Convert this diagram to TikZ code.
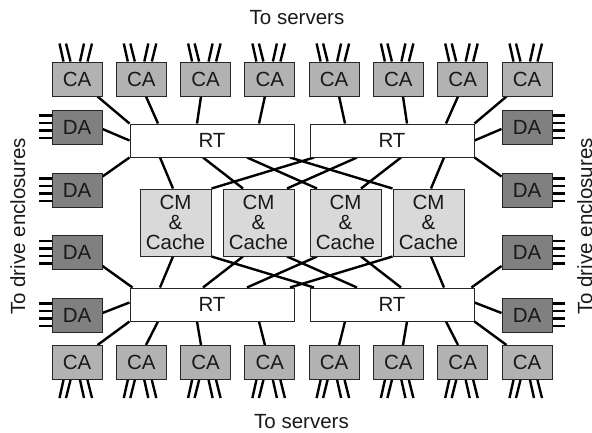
\documentclass[tikz,border=0pt]{standalone}
\usepackage{fontspec}
\setmainfont{Liberation Sans}
\usetikzlibrary{calc}
\pgfdeclarelayer{bg}
\pgfsetlayers{bg,main}
\begin{document}
\begin{tikzpicture}[x=1pt,y=-1pt,
  box/.style={draw=black!85, line width=1pt, inner sep=0pt, font=\fontsize{20.5}{20}\selectfont, text=black!90},
  cabox/.style={box, fill=black!30, minimum width=50pt, minimum height=34pt},
  dabox/.style={box, fill=black!50, minimum width=50pt, minimum height=34pt},
  rtbox/.style={box, fill=white, minimum width=164pt, minimum height=33pt},
  cmbox/.style={box, fill=black!15, minimum width=71pt, minimum height=67pt, align=center},
  conn/.style={line width=2.4pt, black},
  fan/.style={line width=2.4pt, black},
  lbl/.style={font=\fontsize{20.5}{24}\selectfont, inner sep=0pt, text=black!90}]
\useasboundingbox (0,0) rectangle (592,432);

% CA boxes
\foreach \i/\x in {1/77,2/141.3,3/205.6,4/269.9,5/334.1,6/398.4,7/462.7,8/527} {
  \node[cabox] (ct\i) at (\x,79) {CA};
  \node[cabox] (cb\i) at (\x,362.5) {CA};
}
% DA boxes
\foreach \i/\y in {1/127,2/190,3/252.5,4/315} {
  \node[dabox] (dl\i) at (77,\y) {DA};
  \node[dabox] (dr\i) at (527,\y) {DA};
}
% RT boxes
\node[rtbox] (rt1) at (212,140.5) {RT};
\node[rtbox] (rt2) at (392,140.5) {RT};
\node[rtbox] (rt3) at (212,304.5) {RT};
\node[rtbox] (rt4) at (392,304.5) {RT};
% CM boxes
\foreach \i/\x in {1/175.5,2/258.5,3/345.5,4/428.5} {
  \node[cmbox] (cm\i) at (\x,222.5) {CM\\\&\\Cache};
}
% labels
\node[lbl, anchor=base] (ts) at (297,24) {To servers};
\node[lbl, anchor=base] (bs) at (301.5,428) {To servers};
\node[lbl, anchor=base, rotate=90] (ld) at (25,226.5) {To drive enclosures};
\node[lbl, anchor=base, rotate=90] (rd) at (592,226.5) {To drive enclosures};

\begin{pgfonlayer}{bg}
% top CA to top RT
\draw[conn] ([xshift=-5pt]ct1.south east) -- (rt1.north west);
\draw[conn] ([xshift=4.7pt]ct2.south) -- ([xshift=-54pt]rt1.north);
\draw[conn] ([xshift=-4.6pt]ct3.south) -- ([xshift=-15pt]rt1.north);
\draw[conn] ([xshift=-5pt]ct4.south) -- ([xshift=47pt]rt1.north);
\draw[conn] ([xshift=5pt]ct5.south) -- ([xshift=-47pt]rt2.north);
\draw[conn] ([xshift=4.6pt]ct6.south) -- ([xshift=15pt]rt2.north);
\draw[conn] ([xshift=-4.7pt]ct7.south) -- ([xshift=54pt]rt2.north);
\draw[conn] ([xshift=5pt]ct8.south west) -- (rt2.north east);
% bottom RT to bottom CA
\draw[conn] ([xshift=-5pt]cb1.north east) -- (rt3.south west);
\draw[conn] ([xshift=4.7pt]cb2.north) -- ([xshift=-54pt]rt3.south);
\draw[conn] ([xshift=-4.6pt]cb3.north) -- ([xshift=-15pt]rt3.south);
\draw[conn] ([xshift=-5pt]cb4.north) -- ([xshift=47pt]rt3.south);
\draw[conn] ([xshift=5pt]cb5.north) -- ([xshift=-47pt]rt4.south);
\draw[conn] ([xshift=4.6pt]cb6.north) -- ([xshift=15pt]rt4.south);
\draw[conn] ([xshift=-4.7pt]cb7.north) -- ([xshift=54pt]rt4.south);
\draw[conn] ([xshift=5pt]cb8.north west) -- (rt4.south east);
% DA to RT
\draw[conn] ([yshift=-2pt]dl1.east) -- (rt1.west);
\draw[conn] ([yshift=-4pt]dl2.north east) -- (rt1.south west);
\draw[conn] ([yshift=4pt]dl3.south east) -- ([xshift=3pt]rt3.north west);
\draw[conn] ([yshift=2pt]dl4.east) -- ([yshift=2pt]rt3.west);
\draw[conn] ([yshift=-2pt]dr1.west) -- (rt2.east);
\draw[conn] ([yshift=-4pt]dr2.north west) -- (rt2.south east);
\draw[conn] ([yshift=4pt]dr3.south west) -- ([xshift=-3pt]rt4.north east);
\draw[conn] ([yshift=2pt]dr4.west) -- ([yshift=2pt]rt4.east);
% RT to CM (top)
\draw[conn] ([xshift=-52pt]rt1.south) -- ([xshift=-2.5pt]cm1.north);
\draw[conn] ([xshift=-9pt]rt1.south) -- ([xshift=-15.5pt]cm2.north);
\draw[conn] ([xshift=35pt]rt1.south) -- ([xshift=-28.5pt]cm3.north);
\draw[conn] ([xshift=78pt]rt1.south) -- (cm4.north west);
\draw[conn] ([xshift=52pt]rt2.south) -- ([xshift=2.5pt]cm4.north);
\draw[conn] ([xshift=9pt]rt2.south) -- ([xshift=15.5pt]cm3.north);
\draw[conn] ([xshift=-35pt]rt2.south) -- ([xshift=28.5pt]cm2.north);
\draw[conn] ([xshift=-78pt]rt2.south) -- (cm1.north east);
% RT to CM (bottom)
\draw[conn] ([xshift=-52pt]rt3.north) -- ([xshift=-2.5pt]cm1.south);
\draw[conn] ([xshift=-9pt]rt3.north) -- ([xshift=-15.5pt]cm2.south);
\draw[conn] ([xshift=35pt]rt3.north) -- ([xshift=-28.5pt]cm3.south);
\draw[conn] ([xshift=78pt]rt3.north) -- (cm4.south west);
\draw[conn] ([xshift=52pt]rt4.north) -- ([xshift=2.5pt]cm4.south);
\draw[conn] ([xshift=9pt]rt4.north) -- ([xshift=15.5pt]cm3.south);
\draw[conn] ([xshift=-35pt]rt4.north) -- ([xshift=28.5pt]cm2.south);
\draw[conn] ([xshift=-78pt]rt4.north) -- (cm1.south east);
% fans on CA
\foreach \i in {1,...,8} {
  \draw[fan] ([xshift=-13.5pt]ct\i.north) -- ++(-4,-18);
  \draw[fan] ([xshift=-6.5pt]ct\i.north) -- ++(-4.5,-18);
  \draw[fan] ([xshift=3pt]ct\i.north) -- ++(4,-18);
  \draw[fan] ([xshift=10.5pt]ct\i.north) -- ++(4.5,-18);
  \draw[fan] ([xshift=-13.5pt]cb\i.south) -- ++(-4,18);
  \draw[fan] ([xshift=-6.5pt]cb\i.south) -- ++(-4.5,18);
  \draw[fan] ([xshift=3pt]cb\i.south) -- ++(4,18);
  \draw[fan] ([xshift=10.5pt]cb\i.south) -- ++(4.5,18);
}
% fans on DA
\foreach \i in {1,...,4} {
  \foreach \s in {11.5,4,-3.5,-11} {
    \draw[fan] ([yshift=\s pt]dl\i.west) -- ++(-12.5,0);
    \draw[fan] ([yshift=\s pt]dr\i.east) -- ++(12.5,0);
  }
}
\end{pgfonlayer}
\end{tikzpicture}
\end{document}
